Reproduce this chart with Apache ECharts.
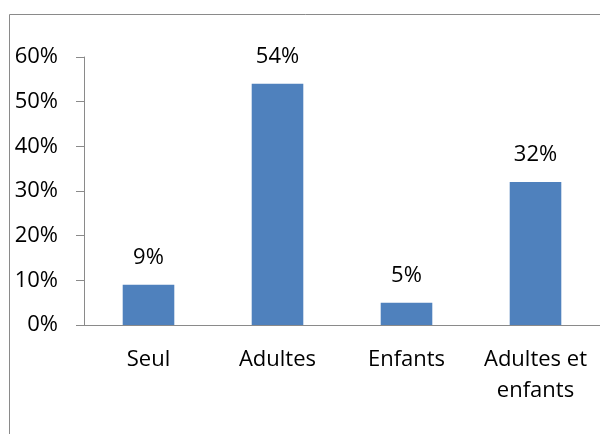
<!DOCTYPE html>
<html>
<head>
<meta charset="utf-8">
<script src="https://cdn.jsdelivr.net/npm/echarts@6/dist/echarts.min.js"></script>
<style>html,body{margin:0;padding:0;background:#fff}#c{width:600px;height:434px}</style>
</head>
<body>
<div id="c"></div>
<script>
var categories = ['Seul', 'Adultes', 'Enfants', 'Adultes et\nenfants'];
var values = [9, 54, 5, 32];
var yTicks = [0, 10, 20, 30, 40, 50, 60];

var chart = echarts.init(document.getElementById('c'));
var font = '"Open Sans", "Noto Sans", sans-serif';
chart.setOption({
  animation: false,
  grid: { left: 84, right: -4, top: 57, bottom: 109, containLabel: false },
  graphic: [{
    type: 'rect', silent: true,
    shape: { x: 9.5, y: 14.5, width: 700, height: 500 },
    style: { fill: 'none', stroke: '#8a8a8a', lineWidth: 1 }
  }],
  xAxis: {
    type: 'category', data: categories,
    axisLine: { lineStyle: { color: '#8a8a8a', width: 1 } },
    axisTick: { length: 8, lineStyle: { color: '#8a8a8a' } },
    axisLabel: { color: '#000', fontFamily: font, fontSize: 22, margin: 19, lineHeight: 31, interval: 0 }
  },
  yAxis: {
    type: 'value', min: yTicks[0], max: yTicks[yTicks.length - 1], interval: 10,
    splitLine: { show: false },
    axisLine: { show: true, lineStyle: { color: '#8a8a8a', width: 1 } },
    axisTick: { show: true, length: 8, lineStyle: { color: '#8a8a8a' } },
    axisLabel: { color: '#000', fontFamily: font, fontSize: 22, margin: 26, formatter: '{value}%' }
  },
  series: [{
    type: 'bar', data: values, barWidth: '40%',
    itemStyle: { color: '#4F81BD' },
    label: { show: true, position: 'top', distance: 16, color: '#000', fontFamily: font, fontSize: 22, formatter: '{c}%' }
  }]
});
</script>
</body>
</html>
